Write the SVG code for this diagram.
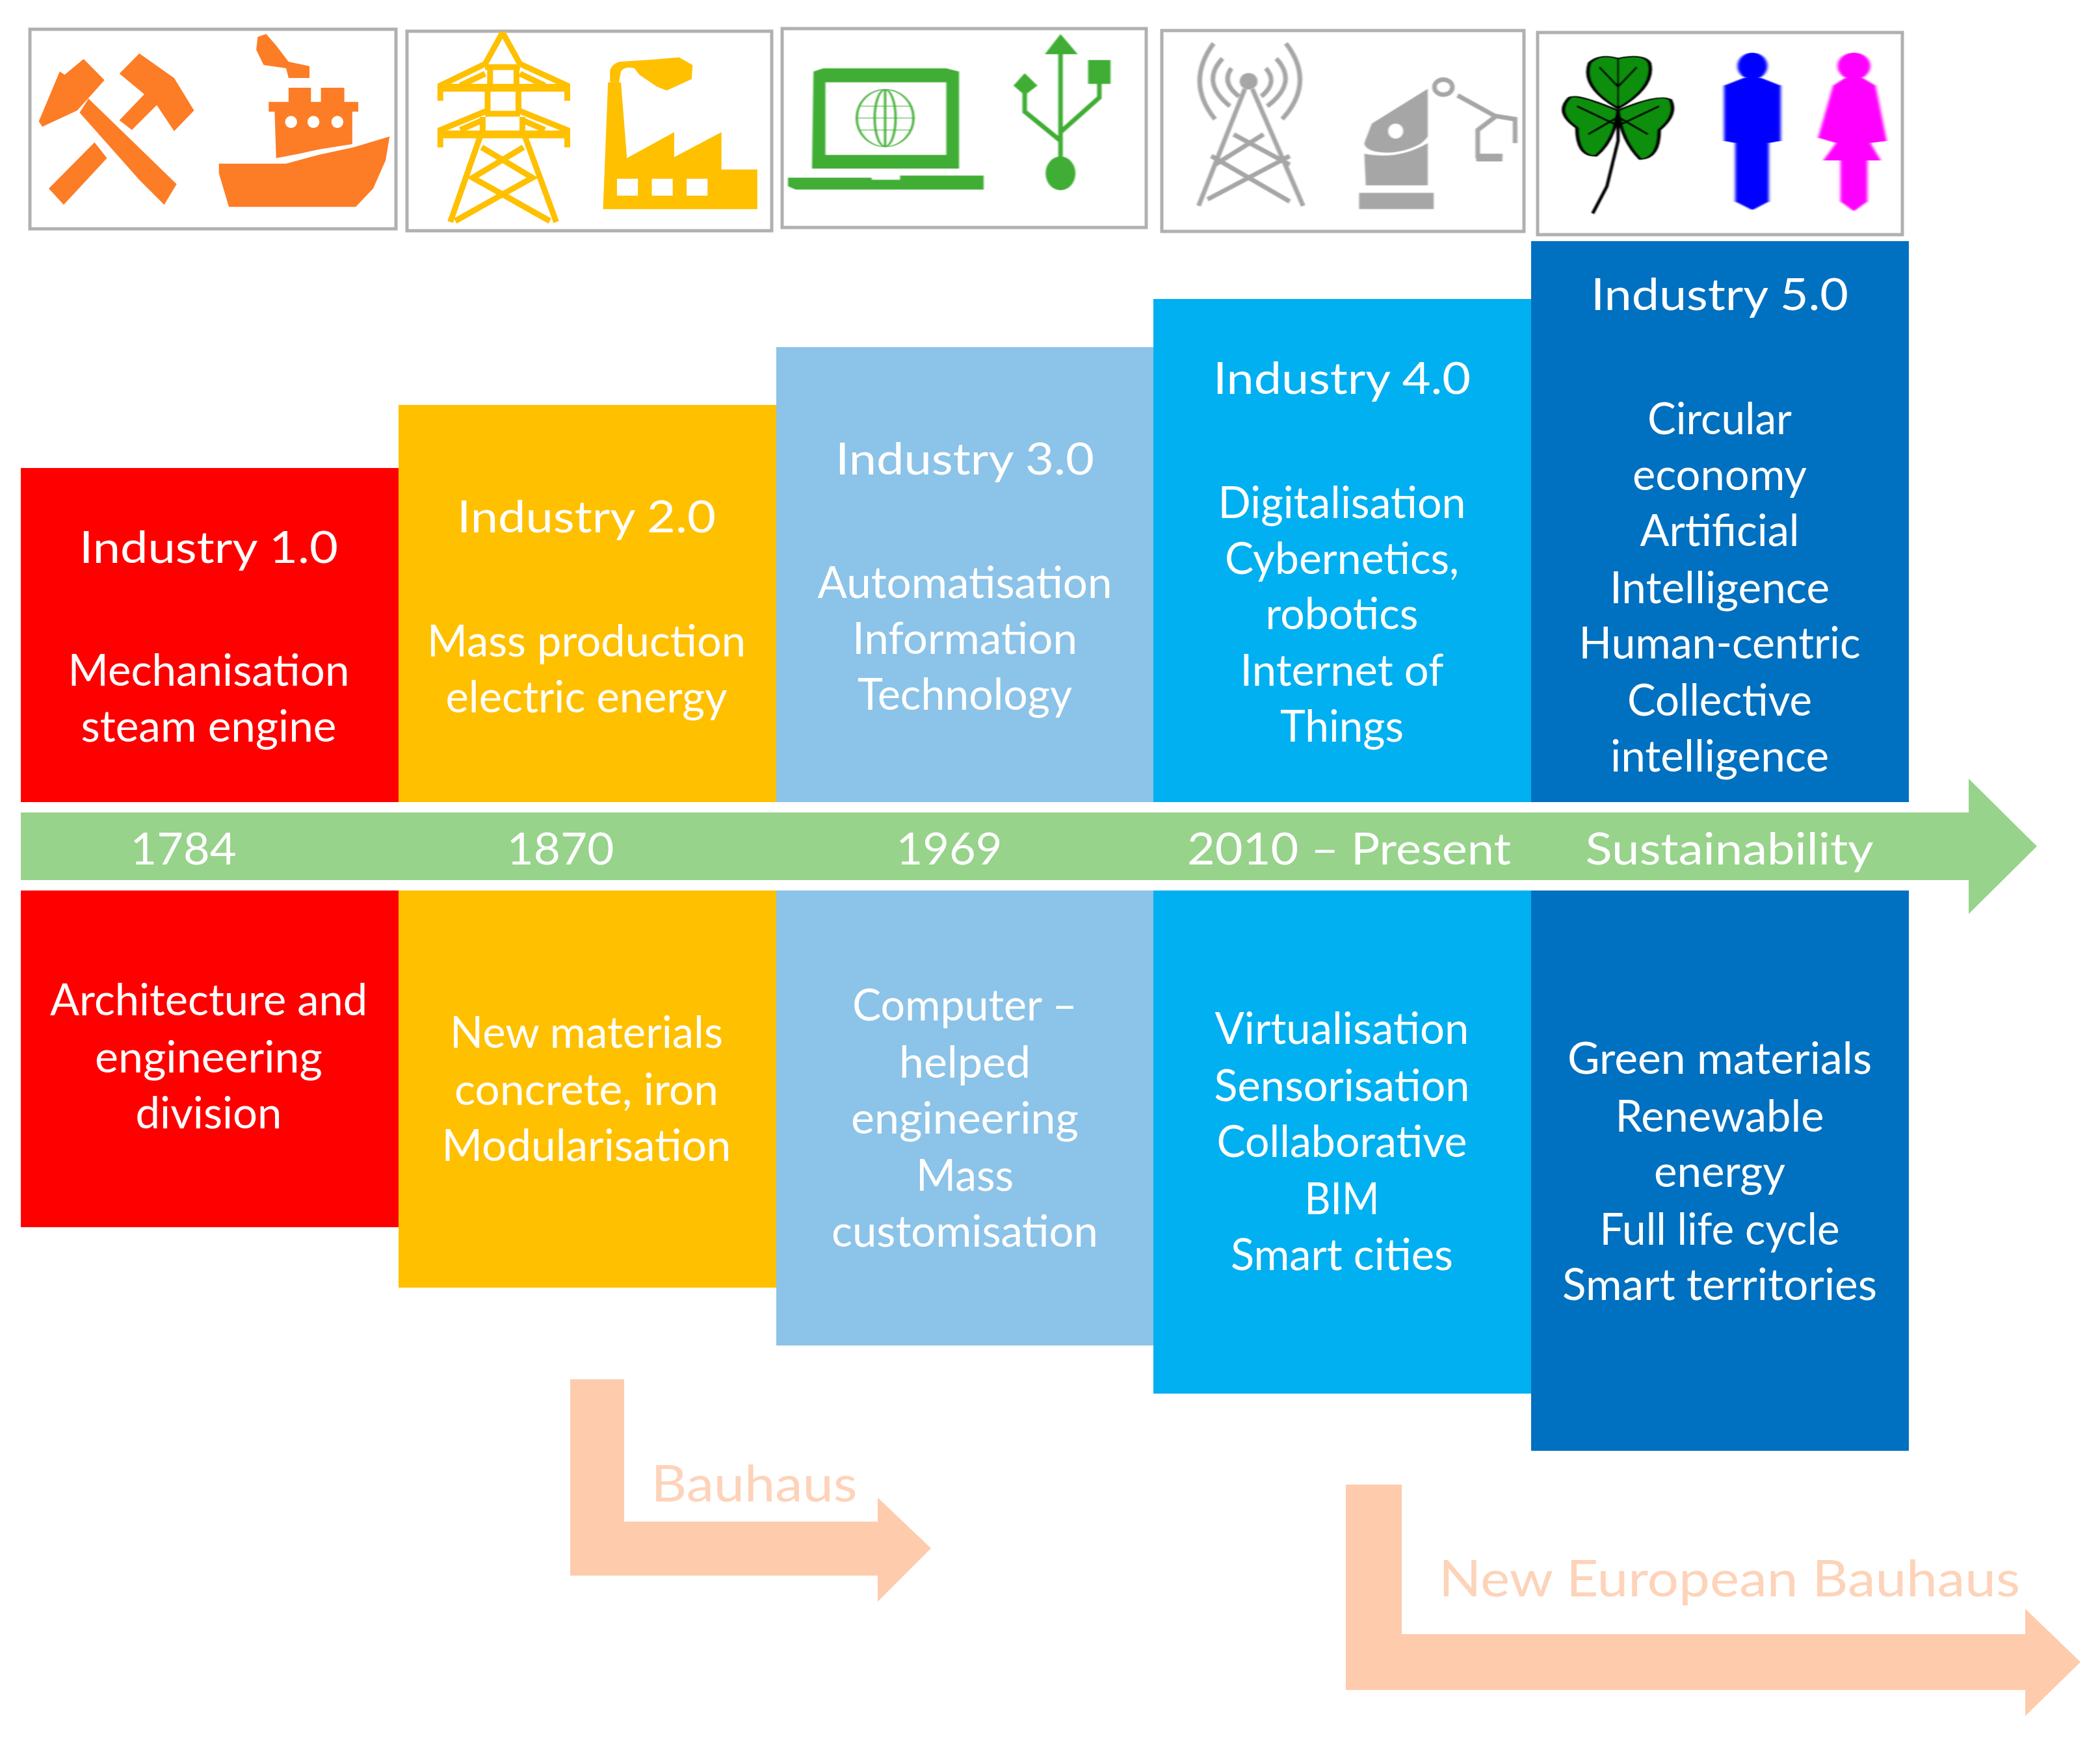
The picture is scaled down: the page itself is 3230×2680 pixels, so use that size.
<svg xmlns="http://www.w3.org/2000/svg" width="3230" height="2680" viewBox="0 0 3230 2680">
<defs>
<filter id="soft" x="-5%" y="-5%" width="110%" height="110%"><feGaussianBlur stdDeviation="1"/></filter>
<filter id="soft2" x="-10%" y="-5%" width="120%" height="110%"><feGaussianBlur stdDeviation="2"/></filter>
</defs>
<style>
text{font-family:"Lato","Open Sans","Liberation Sans",sans-serif;font-size:68px;text-anchor:middle;fill:#fff}
.peach{fill:#fecbac}
.pt{fill:#fdd3b9;font-size:78px}
.frame{fill:#fff;stroke:#b0b0b0;stroke-width:5}
.o{fill:#fd7c26}.y{fill:#ffc000}.g{fill:#3fad34}.s{fill:#a6a6a6}
.ys,.gs,.ss,.ks{fill:none;vector-effect:non-scaling-stroke}
.ys{stroke:#ffc000;stroke-width:9}
.gs{stroke:#3fad34;stroke-width:7}
.ss{stroke:#a6a6a6;stroke-width:7}
.ks{stroke:#000;stroke-width:3}
</style>
<rect width="3230" height="2680" fill="#fff"/>
<g id="frames">
<rect class="frame" x="46" y="45" width="563" height="307"/>
<rect class="frame" x="626" y="48" width="561" height="307"/>
<rect class="frame" x="1203" y="44" width="560" height="306"/>
<rect class="frame" x="1787" y="47" width="557" height="309"/>
<rect class="frame" x="2365" y="50" width="561" height="311"/>
</g>
<g id="icons1" transform="translate(0 20) scale(.7653 .3333)" filter="url(#soft)">
<path class="o" d="M168 212L210 310L178 392L155 450L85 525L78 500L120 270L130 285Z"/>
<path class="o" d="M178 395L355 790L330 885L280 770L160 460Z"/>
<path class="o" d="M280 187L350 300L390 450L350 545L315 425L265 540L240 495L290 375L240 280Z"/>
<path class="o" d="M190 597L215 670L128 885L98 810Z"/>
<path class="o" d="M535 97L555 150L580 225L622 245V300H580L575 255L530 240L515 170L518 110Z"/>
<path class="o" d="M580 345H625V410H645V345H692V410H720V455H708V605L640 630L600 650L555 670L552 455H540V410H580Z"/>
<g fill="#fff"><ellipse cx="585" cy="503" rx="12" ry="28"/><ellipse cx="630" cy="503" rx="12" ry="28"/><ellipse cx="678" cy="503" rx="12" ry="28"/></g>
<path class="o" d="M440 695H575L640 655L710 620L783 570L775 680L750 810L715 895H460L440 740Z"/>
<path class="ys" d="M1010 90L975 235L885 335V405M1010 90L1045 235L1140 335V405M975 250H1045M985 240V345M1038 240V345M925 335L975 280M1095 335L1045 280M980 350V450L885 540V620M1042 350V450L1140 540V620M975 465H1045M925 540L970 495M1095 540L1050 495M970 480V545M1050 480V545M965 570L905 965M1055 570L1118 965M968 620L1070 760L915 960M1052 620L950 760L1105 960"/>
<path class="ys" style="stroke-width:12" d="M885 345H1140M885 560H1140"/>
<path class="y" d="M1222 320H1248L1260 670L1355 550V665L1450 550V722H1522V905H1212Z"/>
<path class="y" d="M1245 225L1310 215L1365 205L1392 240L1390 305L1340 358L1320 340L1285 285L1275 255Q1255 245 1248 270L1244 320H1226V265Q1230 235 1245 225Z"/>
<g fill="#fff"><rect x="1240" y="765" width="42" height="78"/><rect x="1310" y="765" width="42" height="78"/><rect x="1380" y="765" width="42" height="78"/></g>
</g>
<g id="icons2" transform="translate(1180 20) scale(1.148 .3333)" filter="url(#soft)">
<path class="g" d="M62 270L75 255H240L257 270V718H60ZM78 320V655H240V320Z" fill-rule="evenodd"/>
<path class="g" d="M28 760H140V770H178V750H290V815H38L28 800Z"/>
<g class="gs" style="stroke-width:3"><ellipse cx="158" cy="485" rx="38" ry="132"/><ellipse cx="158" cy="485" rx="14" ry="132"/><path d="M120 485H198M125 430H192M125 540H192M158 353V617"/></g>
<path class="g" d="M393 97L416 190L372 190Z"/>
<path class="gs" d="M393 170V680M345 370V455L393 590M445 320V390L393 550"/>
<path class="g" d="M345 278L362 335L345 380L330 335Z"/>
<rect class="g" x="430" y="217" width="30" height="110"/>
<ellipse class="g" cx="393" cy="740" rx="20" ry="78"/>
<ellipse class="s" cx="645" cy="315" rx="12" ry="38"/>
<path class="ss" d="M640 350L578 890M650 350L718 890M590 860L700 660M700 870L595 660M625 560L700 700M665 560L600 700"/>
<path class="ss" d="M622 255Q608 320 632 385M668 255Q685 320 662 385M610 210Q580 320 620 430M682 210Q712 320 670 430M598 140Q560 320 600 490M695 140Q735 320 690 490"/>
<path class="s" d="M885 350L885 570Q870 640 835 650Q800 640 800 600L810 510Z"/>
<path fill="#fff" d="M815 640Q850 660 885 585V600Q860 670 815 655Z"/>
<path class="s" d="M800 650Q845 680 885 600V795H802Z"/>
<rect class="s" x="793" y="830" width="100" height="75"/>
<ellipse cx="842" cy="545" rx="10" ry="35" fill="#fff"/>
<ellipse cx="906" cy="342" rx="12" ry="35" class="ss"/>
<path class="ss" d="M925 380L975 475L1002 490V600M975 480L952 540V660H985"/>
<rect class="s" x="950" y="650" width="35" height="35"/>
<g fill="#0a8f0a" stroke="#000" stroke-width="5">
<path d="M1140 440Q1090 340 1102 230Q1115 185 1140 210Q1175 185 1182 230Q1190 340 1140 440Z"/>
<path d="M1140 450Q1085 370 1075 390Q1055 460 1085 530Q1085 660 1110 660Q1135 590 1140 450Z"/>
<path d="M1140 450Q1195 370 1210 400Q1220 470 1195 540Q1195 670 1170 675Q1145 590 1140 450Z"/>
</g>
<path class="ks" d="M1140 210V440M1115 250L1140 340L1165 250M1085 430L1140 520M1195 430L1140 520M1100 560L1140 480M1180 560L1140 480"/>
<path d="M1140 450V590L1125 800L1106 925" class="ks" style="stroke-width:5"/>
<g filter="url(#soft2)">
<g fill="#0000ff"><ellipse cx="1320" cy="245" rx="20" ry="62"/><path d="M1308 300H1332L1358 335V590L1342 600V870L1320 910L1297 870V600L1282 590V335Z"/></g>
<g fill="#ff00ff"><ellipse cx="1456" cy="245" rx="22" ry="62"/><path d="M1444 300H1468L1485 335L1500 590L1478 600L1492 680H1474V870L1456 915L1438 870V680H1415L1432 600L1408 575L1428 335Z"/></g>
</g>
</g>
<g id="industry-1">
<rect x="32" y="720" width="581" height="514" fill="#ff0000"/>
<text x="321" y="866" textLength="398" lengthAdjust="spacingAndGlyphs">Industry 1.0</text>
<text x="321" y="1055" textLength="433" lengthAdjust="spacingAndGlyphs">Mechanisation</text>
<text x="321" y="1141" textLength="393" lengthAdjust="spacingAndGlyphs">steam engine</text>
</g>
<g id="industry-2">
<rect x="613" y="623" width="581" height="611" fill="#ffc000"/>
<text x="902" y="819" textLength="398" lengthAdjust="spacingAndGlyphs">Industry 2.0</text>
<text x="902" y="1010" textLength="490" lengthAdjust="spacingAndGlyphs">Mass production</text>
<text x="902" y="1096" textLength="433" lengthAdjust="spacingAndGlyphs">electric energy</text>
</g>
<g id="industry-3">
<rect x="1194" y="534" width="580" height="700" fill="#8cc3e8"/>
<text x="1484" y="730" textLength="398" lengthAdjust="spacingAndGlyphs">Industry 3.0</text>
<text x="1484" y="920" textLength="453" lengthAdjust="spacingAndGlyphs">Automatisation</text>
<text x="1484" y="1006" textLength="346" lengthAdjust="spacingAndGlyphs">Information</text>
<text x="1484" y="1092" textLength="330" lengthAdjust="spacingAndGlyphs">Technology</text>
</g>
<g id="industry-4">
<rect x="1774" y="460" width="581" height="774" fill="#00b0f0"/>
<text x="2064" y="606" textLength="396" lengthAdjust="spacingAndGlyphs">Industry 4.0</text>
<text x="2064" y="797" textLength="381" lengthAdjust="spacingAndGlyphs">Digitalisation</text>
<text x="2064" y="883" textLength="360" lengthAdjust="spacingAndGlyphs">Cybernetics,</text>
<text x="2064" y="968" textLength="235" lengthAdjust="spacingAndGlyphs">robotics</text>
<text x="2064" y="1055" textLength="313" lengthAdjust="spacingAndGlyphs">Internet of</text>
<text x="2064" y="1141" textLength="190" lengthAdjust="spacingAndGlyphs">Things</text>
</g>
<g id="industry-5">
<rect x="2355" y="371" width="581" height="863" fill="#0070c0"/>
<text x="2645" y="477" textLength="396" lengthAdjust="spacingAndGlyphs">Industry 5.0</text>
<text x="2645" y="668" textLength="222" lengthAdjust="spacingAndGlyphs">Circular</text>
<text x="2645" y="754" textLength="268" lengthAdjust="spacingAndGlyphs">economy</text>
<text x="2645" y="840" textLength="245" lengthAdjust="spacingAndGlyphs">Artificial</text>
<text x="2645" y="928" textLength="338" lengthAdjust="spacingAndGlyphs">Intelligence</text>
<text x="2645" y="1013" textLength="433" lengthAdjust="spacingAndGlyphs">Human-centric</text>
<text x="2645" y="1101" textLength="284" lengthAdjust="spacingAndGlyphs">Collective</text>
<text x="2645" y="1187" textLength="336" lengthAdjust="spacingAndGlyphs">intelligence</text>
</g>
<g id="timeline">
<path d="M32 1250H3028V1198L3133 1302L3028 1406V1354H32Z" fill="#97d38b"/>
<text x="282" y="1330" textLength="163" lengthAdjust="spacingAndGlyphs">1784</text>
<text x="862" y="1330" textLength="165" lengthAdjust="spacingAndGlyphs">1870</text>
<text x="1460" y="1330" textLength="163" lengthAdjust="spacingAndGlyphs">1969</text>
<text x="2075" y="1330" textLength="498" lengthAdjust="spacingAndGlyphs">2010 – Present</text>
<text x="2660" y="1330" textLength="443" lengthAdjust="spacingAndGlyphs">Sustainability</text>
</g>
<g id="lower-1">
<rect x="32" y="1370" width="581" height="518" fill="#ff0000"/>
<text x="321" y="1562" textLength="488" lengthAdjust="spacingAndGlyphs">Architecture and</text>
<text x="321" y="1650" textLength="350" lengthAdjust="spacingAndGlyphs">engineering</text>
<text x="321" y="1736" textLength="225" lengthAdjust="spacingAndGlyphs">division</text>
</g>
<g id="lower-2">
<rect x="613" y="1370" width="581" height="611" fill="#ffc000"/>
<text x="902" y="1612" textLength="420" lengthAdjust="spacingAndGlyphs">New materials</text>
<text x="902" y="1700" textLength="406" lengthAdjust="spacingAndGlyphs">concrete, iron</text>
<text x="902" y="1786" textLength="445" lengthAdjust="spacingAndGlyphs">Modularisation</text>
</g>
<g id="lower-3">
<rect x="1194" y="1370" width="580" height="700" fill="#8cc3e8"/>
<text x="1484" y="1570" textLength="346" lengthAdjust="spacingAndGlyphs">Computer –</text>
<text x="1484" y="1658" textLength="202" lengthAdjust="spacingAndGlyphs">helped</text>
<text x="1484" y="1744" textLength="350" lengthAdjust="spacingAndGlyphs">engineering</text>
<text x="1484" y="1832" textLength="150" lengthAdjust="spacingAndGlyphs">Mass</text>
<text x="1484" y="1918" textLength="410" lengthAdjust="spacingAndGlyphs">customisation</text>
</g>
<g id="lower-4">
<rect x="1774" y="1370" width="581" height="774" fill="#00b0f0"/>
<text x="2064" y="1606" textLength="391" lengthAdjust="spacingAndGlyphs">Virtualisation</text>
<text x="2064" y="1694" textLength="393" lengthAdjust="spacingAndGlyphs">Sensorisation</text>
<text x="2064" y="1780" textLength="385" lengthAdjust="spacingAndGlyphs">Collaborative</text>
<text x="2064" y="1868" textLength="115" lengthAdjust="spacingAndGlyphs">BIM</text>
<text x="2064" y="1954" textLength="342" lengthAdjust="spacingAndGlyphs">Smart cities</text>
</g>
<g id="lower-5">
<rect x="2355" y="1370" width="581" height="862" fill="#0070c0"/>
<text x="2645" y="1652" textLength="468" lengthAdjust="spacingAndGlyphs">Green materials</text>
<text x="2645" y="1741" textLength="321" lengthAdjust="spacingAndGlyphs">Renewable</text>
<text x="2645" y="1826" textLength="202" lengthAdjust="spacingAndGlyphs">energy</text>
<text x="2645" y="1915" textLength="369" lengthAdjust="spacingAndGlyphs">Full life cycle</text>
<text x="2645" y="2000" textLength="484" lengthAdjust="spacingAndGlyphs">Smart territories</text>
</g>
<g id="connectors">
<path class="peach" d="M877 2122H960V2341H1350V2304L1432 2382L1350 2464V2424H877Z"/>
<path class="peach" d="M2070 2284H2156V2514H3115V2475L3200 2557L3115 2640V2600H2070Z"/>
</g>
<text class="pt" x="1160" y="2310" textLength="317" lengthAdjust="spacingAndGlyphs">Bauhaus</text>
<text class="pt" x="2660" y="2456" textLength="894" lengthAdjust="spacingAndGlyphs">New European Bauhaus</text>
</svg>
